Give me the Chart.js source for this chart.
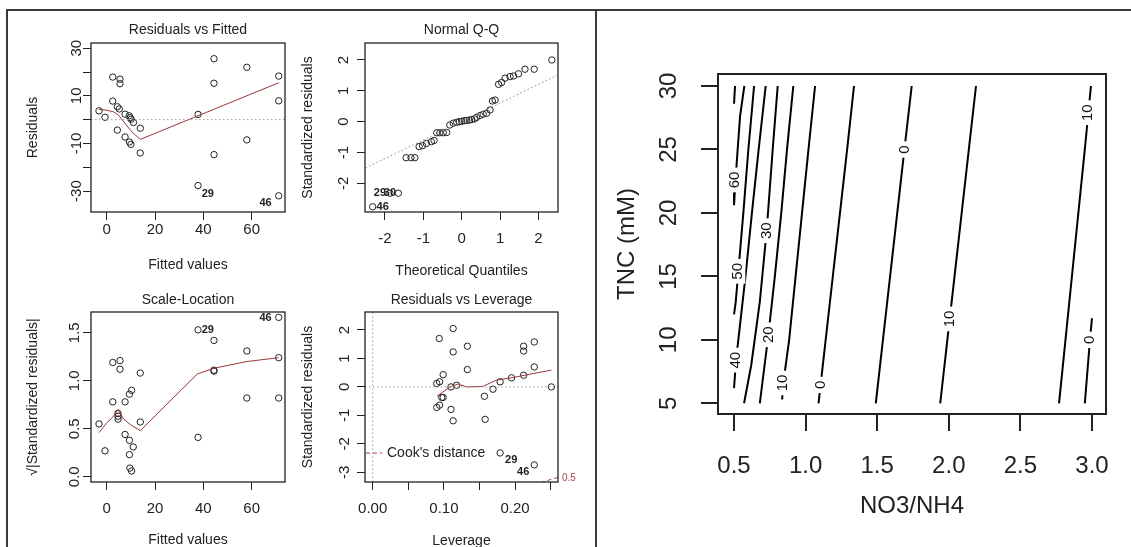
<!DOCTYPE html>
<html>
<head>
<meta charset="utf-8">
<script src="https://cdn.jsdelivr.net/npm/chart.js@4.4.0/dist/chart.umd.min.js"></script>
<style>
  body { margin: 0; background: #fff; width: 1131px; height: 547px; overflow: hidden; position: relative; }
  canvas { position: absolute; }
  .rule { position: absolute; border-color: #3a3a3a; border-style: solid; border-width: 0; }
</style>
</head>
<body>
<div class="rule" style="left:6px;top:9px;width:1125px;border-top-width:2px"></div>
<div class="rule" style="left:6px;top:9px;height:540px;border-left-width:2px"></div>
<div class="rule" style="left:595px;top:9px;height:540px;border-left-width:2px"></div>

<canvas id="rvf" width="290" height="276" style="left:8px;top:12px"></canvas>
<canvas id="qq" width="298" height="276" style="left:298px;top:12px"></canvas>
<canvas id="sl" width="290" height="262" style="left:8px;top:288px"></canvas>
<canvas id="lev" width="298" height="262" style="left:298px;top:288px"></canvas>
<canvas id="cont" width="531" height="535" style="left:600px;top:12px"></canvas>

<script>
// ---- Residuals vs Fitted ----
var rvfFitted = [-3.2,-0.7,2.5,5.5,5.5,2.5,4.4,5.2,7.6,9.3,9.7,10.1,11.1,4.4,7.6,9.4,10.0,13.9,13.9,37.8,37.8,44.4,44.4,44.4,58.0,58.0,71.2,71.2,71.2];
var rvfResid  = [3.7,1.0,17.9,17.0,15.1,7.8,5.4,4.5,2.3,1.6,0.8,0.2,-1.2,-4.4,-7.3,-9.4,-10.4,-3.6,-14.0,2.2,-27.7,25.6,15.3,-14.7,22.0,-8.5,18.3,7.9,-32.0];
var rvfSmoothX = [-3.2,-0.3,2.8,4.9,7.6,10.4,13.9,71.2];
var rvfSmoothY = [4.3,4.0,3.3,1.9,-1.6,-5.1,-8.3,15.5];
var rvfIds = [{x: 39.3, y: -31.1, t: '29', a: 'left'}, {x: 68.3, y: -35.0, t: '46', a: 'right'}];
var rvfXTicks = [0, 20, 40, 60];
var rvfXLabels = ['0', '20', '40', '60'];
var rvfYTicks = [-30, -20, -10, 0, 10, 20, 30];
var rvfYLabels = ['-30', '', '-10', '', '10', '', '30'];

// ---- Normal Q-Q ----
var qqTheo = [-2.32,-1.87,-1.65,-1.45,-1.32,-1.22,-1.11,-1.02,-0.92,-0.79,-0.72,-0.65,-0.57,-0.48,-0.39,-0.31,-0.22,-0.13,-0.06,0,0.07,0.13,0.2,0.26,0.33,0.39,0.48,0.56,0.65,0.74,0.80,0.87,0.96,1.04,1.13,1.26,1.35,1.48,1.65,1.89,2.35];
var qqStd  = [-2.76,-2.32,-2.32,-1.17,-1.17,-1.17,-0.81,-0.78,-0.71,-0.65,-0.61,-0.36,-0.36,-0.36,-0.35,-0.11,-0.05,-0.02,0.0,0.01,0.03,0.04,0.05,0.07,0.09,0.14,0.2,0.24,0.27,0.38,0.67,0.70,1.21,1.27,1.41,1.46,1.48,1.55,1.70,1.70,2.0];
var qqLineX = [-2.6, 2.6];
var qqLineY = [-1.56, 1.57];
var qqIds = [{x: -2.22, y: -2.77, t: '46', a: 'left'}, {x: -2.29, y: -2.32, t: '29', a: 'left'}, {x: -2.03, y: -2.32, t: '30', a: 'left'}];
var qqTicks = [-2, -1, 0, 1, 2];
var qqLabels = ['-2', '-1', '0', '1', '2'];

// ---- Scale-Location ----
var slFitted = [-3.2,-0.7,2.5,5.5,5.5,2.5,4.7,4.7,4.7,7.6,7.6,9.4,11.0,9.4,9.6,10.3,9.4,10.3,13.9,13.9,37.8,37.8,44.4,44.4,44.4,58.0,58.0,71.2,71.2,71.2];
var slRoot   = [0.55,0.27,1.19,1.21,1.12,0.78,0.66,0.63,0.60,0.78,0.44,0.38,0.31,0.23,0.09,0.06,0.86,0.90,1.08,0.57,1.53,0.41,1.42,1.10,1.11,1.31,0.82,1.66,1.24,0.82];
var slSmoothX = [-3.2,0,2.5,4.7,7,10,13.9,37.5,44.4,58,71.2];
var slSmoothY = [0.46,0.56,0.62,0.70,0.60,0.54,0.48,1.07,1.13,1.20,1.24];
var slIds = [{x: 39.3, y: 1.53, t: '29', a: 'left'}, {x: 68.3, y: 1.65, t: '46', a: 'right'}];
var slYTicks = [0, 0.5, 1, 1.5];
var slYLabels = ['0.0', '0.5', '1.0', '1.5'];

// ---- Residuals vs Leverage ----
var levH = [0.113,0.0935,0.113,0.133,0.133,0.090,0.094,0.099,0.110,0.118,0.090,0.094,0.097,0.099,0.110,0.113,0.157,0.158,0.169,0.179,0.179,0.195,0.212,0.212,0.212,0.227,0.227,0.227,0.251];
var levR = [2.05,1.70,1.23,1.43,0.61,0.12,0.18,0.43,0.0,0.06,-0.72,-0.64,-0.37,-0.37,-0.79,-1.19,-0.33,-1.14,-0.08,0.18,-2.32,0.32,0.41,1.43,1.26,1.58,0.70,-2.74,0.0];
var levSmoothX = [0.090,0.1086,0.120,0.132,0.155,0.174,0.197,0.2255,0.251];
var levSmoothY = [-0.33,0.0,0.1,0.0,0.02,0.24,0.33,0.47,0.59];
var cookH = [0.236,0.245,0.253,0.262];
var cookR = [-3.36,-3.29,-3.23,-3.17];
var levIds = [{x: 0.186, y: -2.58, t: '29', a: 'left'}, {x: 0.22, y: -2.99, t: '46', a: 'right'}];
var levXTicks = [0, 0.05, 0.10, 0.15, 0.20, 0.25];
var levXLabels = ['0.00', '', '0.10', '', '0.20', ''];
var levYTicks = [-3, -2, -1, 0, 1, 2];
var levYLabels = ['-3', '-2', '-1', '0', '1', '2'];

// ---- Contour: TNC vs NO3/NH4 ----
var contourLines = [
  [[0.507, 30], [0.500, 28.6]],
  [[0.572, 30], [0.542, 27.6], [0.519, 24.0], [0.505, 21.6], [0.500, 20.6]],
  [[0.640, 30], [0.600, 25.0], [0.565, 20.0], [0.530, 15.4], [0.512, 13.0], [0.500, 12.0]],
  [[0.721, 30], [0.672, 25.0], [0.625, 20.0], [0.580, 15.0], [0.540, 11.0], [0.514, 8.4], [0.500, 6.2]],
  [[0.805, 30], [0.770, 25.0], [0.728, 18.6], [0.680, 13.0], [0.620, 8.0], [0.570, 5.0]],
  [[0.914, 30], [0.870, 25.0], [0.830, 20.0], [0.785, 15.0], [0.740, 10.4], [0.680, 5.0]],
  [[1.066, 30], [1.020, 25.0], [0.975, 20.0], [0.930, 15.0], [0.885, 10.0], [0.844, 6.6], [0.836, 5.3]],
  [[1.338, 30], [1.290, 25.0], [1.240, 20.0], [1.190, 15.0], [1.140, 10.0], [1.090, 5.0]],
  [[1.741, 30], [1.690, 25.0], [1.640, 20.0], [1.590, 15.0], [1.540, 10.0], [1.490, 5.0]],
  [[2.190, 30], [2.140, 25.0], [2.090, 20.0], [2.040, 15.0], [1.990, 10.0], [1.940, 5.0]],
  [[2.993, 30], [2.950, 25.0], [2.905, 20.0], [2.860, 15.0], [2.815, 10.0], [2.770, 5.0]],
  [[3.000, 11.7], [2.986, 10.0], [2.950, 5.0]]
];
var contourLabels = [
  {x: 0.507, y: 22.6, t: '60'}, {x: 0.530, y: 15.4, t: '50'}, {x: 0.514, y: 8.4, t: '40'},
  {x: 0.728, y: 18.6, t: '30'}, {x: 0.740, y: 10.4, t: '20'}, {x: 0.844, y: 6.6, t: '10'},
  {x: 1.104, y: 6.45, t: '0'}, {x: 1.690, y: 25.0, t: '0'}, {x: 2.006, y: 11.65, t: '10'},
  {x: 2.974, y: 27.9, t: '10'}, {x: 2.986, y: 10.0, t: '0'}
];
var ratioTicks = [0.5, 1.0, 1.5, 2.0, 2.5, 3.0];
var ratioLabels = ['0.5', '1.0', '1.5', '2.0', '2.5', '3.0'];
var tncTicks = [5, 10, 15, 20, 25, 30];
var tncLabels = ['5', '10', '15', '20', '25', '30'];

var FAMILY = "'Liberation Sans', Arial, sans-serif";
var INK = '#222';
var SMOOTH = '#9a3636';
Chart.defaults.font.family = FAMILY;
Chart.defaults.color = INK;
Chart.defaults.animation = false;
Chart.defaults.events = [];
Chart.defaults.plugins.legend.display = false;
Chart.defaults.plugins.tooltip.enabled = false;

function pairs(xs, ys) {
  return xs.map(function (x, i) { return {x: x, y: ys[i]}; });
}

// box, rotated y tick labels, point ids, contour labels, Cook's legend
var rDeco = {
  id: 'rDeco',
  afterDatasetsDraw: function (chart, args, o) {
    if (!o.levels) return;
    var ctx = chart.ctx, xs = chart.scales.x, ys = chart.scales.y;
    ctx.save();
    ctx.font = o.levelFont;
    o.levels.forEach(function (l) {
      var px = xs.getPixelForValue(l.x), py = ys.getPixelForValue(l.y);
      var w = ctx.measureText(l.t).width;
      ctx.save();
      ctx.translate(px, py);
      ctx.rotate(-Math.PI / 2);
      ctx.fillStyle = '#fff';
      ctx.fillRect(-w / 2 - 4, -7, w + 8, 14);
      ctx.fillStyle = '#111';
      ctx.textAlign = 'center';
      ctx.textBaseline = 'middle';
      ctx.fillText(l.t, 0, 0);
      ctx.restore();
    });
    ctx.restore();
  },
  afterDraw: function (chart, args, o) {
    var ctx = chart.ctx, a = chart.chartArea, xs = chart.scales.x, ys = chart.scales.y;
    ctx.save();
    ctx.strokeStyle = INK;
    ctx.lineWidth = o.boxWidth;
    ctx.strokeRect(a.left, a.top, a.right - a.left, a.bottom - a.top);

    ctx.fillStyle = INK;
    ctx.font = o.tickFont;
    ctx.textAlign = 'center';
    ctx.textBaseline = 'middle';
    o.yTicks.forEach(function (v, i) {
      if (!o.yLabels[i]) return;
      ctx.save();
      ctx.translate(a.left - o.yOff, ys.getPixelForValue(v));
      ctx.rotate(-Math.PI / 2);
      ctx.fillText(o.yLabels[i], 0, 0);
      ctx.restore();
    });

    if (o.ids) {
      ctx.font = 'bold 11px ' + FAMILY;
      o.ids.forEach(function (d) {
        ctx.textAlign = d.a;
        ctx.fillText(d.t, xs.getPixelForValue(d.x), ys.getPixelForValue(d.y));
      });
    }

    if (o.cook) {
      var ly = a.bottom - 29;
      ctx.strokeStyle = '#b04040';
      ctx.lineWidth = 1;
      ctx.setLineDash([4, 3]);
      ctx.beginPath();
      ctx.moveTo(a.left + 1, ly);
      ctx.lineTo(a.left + 17, ly);
      ctx.stroke();
      ctx.setLineDash([]);
      ctx.font = '14px ' + FAMILY;
      ctx.textAlign = 'left';
      ctx.fillStyle = INK;
      ctx.fillText("Cook's distance", a.left + 22, ly);
      ctx.font = '10px ' + FAMILY;
      ctx.fillStyle = '#b04040';
      ctx.fillText('0.5', a.right + 4, a.bottom - 4);
    }
    ctx.restore();
  }
};

function xAxis(min, max, ticks, labels, o) {
  return {
    type: 'linear', position: 'bottom', min: min, max: max,
    afterBuildTicks: function (s) { s.ticks = ticks.map(function (v) { return {value: v}; }); },
    afterFit: function (s) { s.height = o.h; },
    ticks: {
      autoSkip: false, maxRotation: 0, minRotation: 0, padding: o.pad,
      font: {size: o.tfs || o.fs}, color: INK,
      callback: function (v, i) { return labels[i]; }
    },
    grid: {drawOnChartArea: false, drawTicks: true, tickLength: o.tl, color: INK, lineWidth: o.lw},
    border: {display: false},
    title: {display: true, text: o.title, font: {size: o.fs}, color: INK, padding: {top: 0, bottom: o.tpad}}
  };
}

function yAxis(min, max, ticks, o) {
  return {
    type: 'linear', position: 'left', min: min, max: max,
    afterBuildTicks: function (s) { s.ticks = ticks.map(function (v) { return {value: v}; }); },
    afterFit: function (s) { s.width = o.w; },
    ticks: {display: false},
    grid: {drawOnChartArea: false, drawTicks: true, tickLength: o.tl, color: INK, lineWidth: o.lw},
    border: {display: false},
    title: {display: true, text: o.title, font: {size: o.fs}, color: INK, padding: {top: o.tpad, bottom: 0}}
  };
}

function points(data) {
  return {data: data, showLine: false, pointRadius: 3.2, pointBorderWidth: 1,
          pointBorderColor: INK, pointBackgroundColor: 'rgba(0,0,0,0)'};
}
function line(data, color, dash, width) {
  return {data: data, showLine: true, pointRadius: 0, borderColor: color, borderWidth: width || 1,
          borderDash: dash || [], tension: 0, clip: 0};
}
function title(text, top, bottom) {
  return {display: true, text: text, fullSize: false, color: INK,
          font: {size: 14, weight: 'normal'}, padding: {top: top, bottom: bottom}};
}

var small = {fs: 14, tfs: 15, tl: 8, lw: 1};
var TICK15 = '15px ' + FAMILY;
function merge(a, b) { return Object.assign({}, a, b); }

new Chart(document.getElementById('rvf'), {
  type: 'scatter',
  data: {datasets: [
    line([{x: -6.5, y: 0}, {x: 73.8, y: 0}], '#999', [1.5, 2.5]),
    line(pairs(rvfSmoothX, rvfSmoothY), SMOOTH),
    points(pairs(rvfFitted, rvfResid))
  ]},
  options: {
    responsive: false, devicePixelRatio: 1,
    layout: {padding: {left: 0, right: 13, top: 0, bottom: 0}},
    scales: {
      x: xAxis(-6.5, 73.8, rvfXTicks, rvfXLabels, merge(small, {h: 76, pad: 1, title: 'Fitted values', tpad: 14})),
      y: yAxis(-38.8, 32.2, rvfYTicks, merge(small, {w: 83, title: 'Residuals', tpad: 16.5}))
    },
    plugins: {
      title: title('Residuals vs Fitted', 9.6, 4.6),
      rDeco: {boxWidth: 1.3, tickFont: TICK15, yTicks: rvfYTicks, yLabels: rvfYLabels, yOff: 14, ids: rvfIds}
    }
  },
  plugins: [rDeco]
});

new Chart(document.getElementById('qq'), {
  type: 'scatter',
  data: {datasets: [
    line(pairs(qqLineX, qqLineY), '#888', [1.5, 2.5]),
    points(pairs(qqTheo, qqStd))
  ]},
  options: {
    responsive: false, devicePixelRatio: 1,
    layout: {padding: {left: 0, right: 38, top: 0, bottom: 0}},
    scales: {
      x: xAxis(-2.52, 2.51, qqTicks, qqLabels, merge(small, {h: 76, pad: 9.5, title: 'Theoretical Quantiles', tpad: 8})),
      y: yAxis(-2.93, 2.55, qqTicks, merge(small, {w: 67, title: 'Standardized residuals', tpad: 2}))
    },
    plugins: {
      title: title('Normal Q-Q', 9.6, 4.6),
      rDeco: {boxWidth: 1.3, tickFont: TICK15, yTicks: qqTicks, yLabels: qqLabels, yOff: 21, ids: qqIds}
    }
  },
  plugins: [rDeco]
});

new Chart(document.getElementById('sl'), {
  type: 'scatter',
  data: {datasets: [
    line(pairs(slSmoothX, slSmoothY), SMOOTH),
    points(pairs(slFitted, slRoot))
  ]},
  options: {
    responsive: false, devicePixelRatio: 1,
    layout: {padding: {left: 0, right: 13, top: 0, bottom: 0}},
    scales: {
      x: xAxis(-6.5, 73.8, rvfXTicks, rvfXLabels, merge(small, {h: 68, pad: 9.5, title: 'Fitted values', tpad: 1.5})),
      y: yAxis(-0.055, 1.716, slYTicks, merge(small, {w: 83, title: '\u221A|Standardized residuals|', tpad: 16.5}))
    },
    plugins: {
      title: title('Scale-Location', 3.6, 3.6),
      rDeco: {boxWidth: 1.3, tickFont: TICK15, yTicks: slYTicks, yLabels: slYLabels, yOff: 16, ids: slIds}
    }
  },
  plugins: [rDeco]
});

new Chart(document.getElementById('lev'), {
  type: 'scatter',
  data: {datasets: [
    line([{x: -0.0108, y: 0}, {x: 0.2603, y: 0}], '#999', [1.5, 2.5]),
    line([{x: 0, y: -3.34}, {x: 0, y: 2.632}], '#999', [1.5, 2.5]),
    line(pairs(levSmoothX, levSmoothY), SMOOTH),
    line(pairs(cookH, cookR), '#b04040', [4, 3]),
    points(pairs(levH, levR))
  ]},
  options: {
    responsive: false, devicePixelRatio: 1,
    layout: {padding: {left: 0, right: 38, top: 0, bottom: 0}},
    scales: {
      x: xAxis(-0.0108, 0.2603, levXTicks, levXLabels, merge(small, {h: 68, pad: 9.5, title: 'Leverage', tpad: 0})),
      y: yAxis(-3.34, 2.632, levYTicks, merge(small, {w: 67, title: 'Standardized residuals', tpad: 2}))
    },
    plugins: {
      title: title('Residuals vs Leverage', 3.6, 3.6),
      rDeco: {boxWidth: 1.3, tickFont: TICK15, yTicks: levYTicks, yLabels: levYLabels, yOff: 20, ids: levIds, cook: true}
    }
  },
  plugins: [rDeco]
});

var big = {fs: 24, tl: 17, lw: 2};
new Chart(document.getElementById('cont'), {
  type: 'scatter',
  data: {datasets: contourLines.map(function (c) {
    return line(c.map(function (p) { return {x: p[0], y: p[1]}; }), '#000', [], 2);
  })},
  options: {
    responsive: false, devicePixelRatio: 1,
    layout: {padding: {left: 0, right: 25, top: 62, bottom: 0}},
    scales: {
      x: xAxis(0.388, 3.098, ratioTicks, ratioLabels, merge(big, {h: 133, pad: 21, title: 'NO3/NH4', tpad: 26})),
      y: yAxis(4.157, 30.946, tncTicks, merge(big, {w: 118, title: 'TNC (mM)', tpad: 13}))
    },
    plugins: {
      title: {display: false},
      rDeco: {boxWidth: 2, tickFont: '24px ' + FAMILY, yTicks: tncTicks, yLabels: tncLabels, yOff: 49,
              levels: contourLabels, levelFont: '15px ' + FAMILY}
    }
  },
  plugins: [rDeco]
});
</script>
</body>
</html>
